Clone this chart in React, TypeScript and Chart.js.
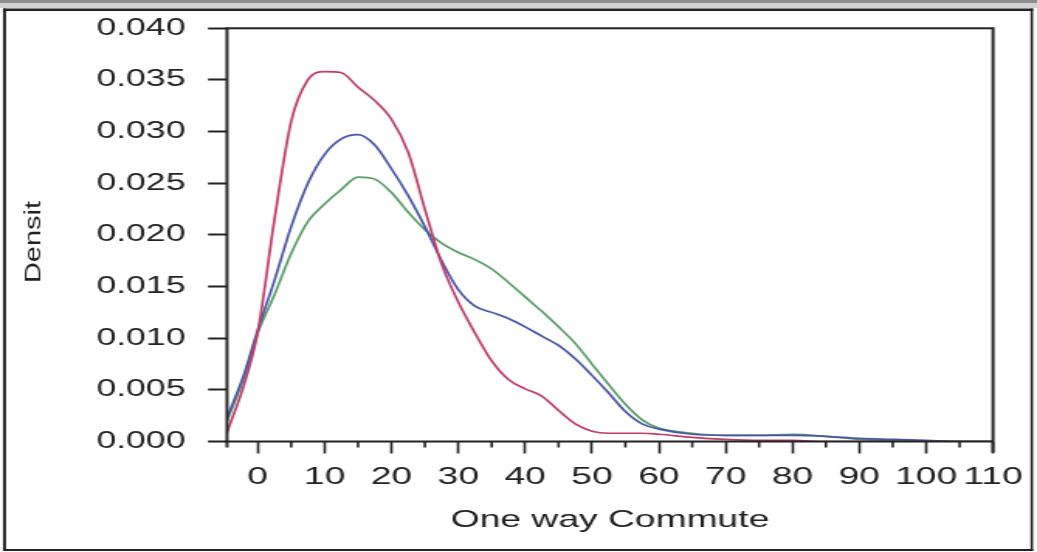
import React, { useEffect, useRef } from "react";
import { Chart, registerables } from "chart.js";

Chart.register(...registerables);

// ---- data ----
const commuteMinutes = [-4.6, -2, 0, 2.5, 5, 7.5, 10, 12.5, 15, 17.5, 20, 22.5, 25, 27.5, 30, 32.5, 35, 37.5, 40, 42.5, 45, 47.5, 50, 52.5, 55, 57.5, 60, 65, 70, 75, 80, 85, 90, 95, 100, 105, 110];
const redDensity = [0.0009, 0.0056, 0.0106, 0.0215, 0.0310, 0.0350, 0.0358, 0.0357, 0.0343, 0.0330, 0.0312, 0.0280, 0.0225, 0.0172, 0.0135, 0.0105, 0.0078, 0.0060, 0.0051, 0.0044, 0.0030, 0.0017, 0.0010, 0.0008, 0.0008, 0.0008, 0.0007, 0.0004, 0.0002, 0.0001, 0.0001, 0, 0, 0, 0, 0, 0];
const blueDensity = [0.0023, 0.0066, 0.0108, 0.0156, 0.0208, 0.0250, 0.0278, 0.0293, 0.0297, 0.0287, 0.0264, 0.0238, 0.0208, 0.0175, 0.0147, 0.0131, 0.0125, 0.0119, 0.0111, 0.0102, 0.0093, 0.0080, 0.0064, 0.0047, 0.0029, 0.0017, 0.0012, 0.0007, 0.0006, 0.0006, 0.0006, 0.0005, 0.0003, 0.0002, 0.0001, 0, 0];
const greenDensity = [0.0020, 0.0063, 0.0105, 0.0142, 0.0182, 0.0213, 0.0230, 0.0244, 0.0256, 0.0254, 0.0241, 0.0222, 0.0205, 0.0192, 0.0183, 0.0176, 0.0167, 0.0154, 0.0140, 0.0126, 0.0111, 0.0095, 0.0075, 0.0055, 0.0036, 0.0021, 0.0013, 0.0008, 0.0006, 0.0006, 0.0007, 0.0005, 0.0002, 0.0001, 0, 0, 0];
const seriesNames = ["Group 1", "Group 2", "Group 3"];
const xTickValues = [0, 5, 10, 15, 20, 25, 30, 35, 40, 45, 50, 55, 60, 65, 70, 75, 80, 85, 90, 95, 100, 105, 110];
const xTitle = "One way Commute";
const yTitle = "Densit";

// ---- layout (internal canvas is stretched horizontally by S) ----
const W = 669;
const H = 552;
const S = 1037 / W;
const FONT = "'Liberation Sans', Arial, Helvetica, sans-serif";
const INK = "#222";

const isMajor = (v: number) => Math.abs(v % 10) < 1e-6;

const decorPlugin = {
  id: "decor",
  beforeDraw(chart: any) {
    const ctx = chart.ctx;
    ctx.save();
    ctx.fillStyle = "#fff";
    ctx.fillRect(0, 0, W, H);
    ctx.fillStyle = "#8e8e8e";
    ctx.fillRect(0, 0, W, 3.5);
    ctx.fillStyle = "#d2d2d2";
    ctx.fillRect(0, 3.5, W, 4.5);
    ctx.fillStyle = INK;
    const x0 = 3 / S;
    const x1 = 1033 / S;
    ctx.fillRect(x0, 8.5, x1 - x0, 2.5);
    ctx.fillRect(x0, 549, x1 - x0, 2);
    ctx.fillRect(x0, 8.5, 3 / S, 542.5);
    ctx.fillRect(x1 - 2.5 / S, 8.5, 2.5 / S, 542.5);
    ctx.restore();
  },
  afterDraw(chart: any) {
    const ctx = chart.ctx;
    const a = chart.chartArea;
    const xs = chart.scales.x;
    ctx.save();
    ctx.fillStyle = INK;
    // plot box
    ctx.fillRect(a.left, a.top - 1, a.right - a.left, 2);
    ctx.fillRect(a.left - 1, a.bottom - 1, a.right - a.left + 1, 2);
    ctx.fillRect(a.left - 1.5 / S, a.top - 1, 3 / S, a.bottom - a.top + 7);
    ctx.fillRect(a.right - 1.5 / S, a.top - 1, 3 / S, a.bottom - a.top + 12);
    // minor x ticks
    for (const v of xTickValues) {
      if (isMajor(v)) continue;
      const px = xs.getPixelForValue(v);
      ctx.fillRect(px - 0.8, a.bottom, 1.6, 6);
    }
    // y title (narrow rotated text)
    ctx.translate(34 / S, 242);
    ctx.rotate(-Math.PI / 2);
    ctx.scale(1, 0.5);
    ctx.font = `29px ${FONT}`;
    ctx.textAlign = "center";
    ctx.textBaseline = "middle";
    ctx.fillStyle = INK;
    ctx.fillText(yTitle, 0, 0);
    ctx.restore();
  },
};

export default function App() {
  const ref = useRef<HTMLCanvasElement | null>(null);

  useEffect(() => {
    if (!ref.current) return;
    const mk = (ys: number[]) => commuteMinutes.map((x, i) => ({ x, y: ys[i] }));
    const chart = new Chart(ref.current, {
      type: "line",
      data: {
        datasets: [
          { label: seriesNames[0], data: mk(redDensity), borderColor: "#c23c6c", borderWidth: 1.7, pointRadius: 0, cubicInterpolationMode: "monotone", fill: false },
          { label: seriesNames[1], data: mk(blueDensity), borderColor: "#4a57a8", borderWidth: 1.7, pointRadius: 0, cubicInterpolationMode: "monotone", fill: false },
          { label: seriesNames[2], data: mk(greenDensity), borderColor: "#5a9e68", borderWidth: 1.7, pointRadius: 0, cubicInterpolationMode: "monotone", fill: false },
        ],
      },
      options: {
        animation: false,
        responsive: false,
        devicePixelRatio: 1,
        layout: { autoPadding: false, padding: { top: 28, right: W - 993 / S, bottom: 0, left: 0 } },
        plugins: { legend: { display: false }, tooltip: { enabled: false } },
        scales: {
          x: {
            type: "linear",
            min: -4.6,
            max: 110,
            afterBuildTicks: (sc: any) => { sc.ticks = xTickValues.map((v) => ({ value: v })); },
            afterFit: (sc: any) => { sc.height = H - 441.5; },
            border: { display: false },
            grid: {
              drawOnChartArea: false,
              drawTicks: true,
              tickLength: 12,
              tickWidth: 1.6,
              tickColor: (c: any) => (c.tick && isMajor(c.tick.value) ? INK : "rgba(0,0,0,0)"),
            },
            ticks: {
              autoSkip: false,
              maxRotation: 0,
              padding: 9,
              color: INK,
              font: { family: FONT, size: 24 },
              callback: (v: any) => {
                const n = Number(v);
                return isMajor(n) ? String(Math.round(n)) : "";
              },
            },
            title: { display: true, text: xTitle, color: INK, font: { family: FONT, size: 24 }, padding: { top: 0, bottom: 17 } },
          },
          y: {
            type: "linear",
            min: 0,
            max: 0.04,
            afterFit: (sc: any) => { sc.width = 227 / S; },
            border: { display: false },
            grid: { drawOnChartArea: false, drawTicks: true, tickLength: 19 / S, tickWidth: 2, tickColor: INK },
            ticks: {
              stepSize: 0.005,
              padding: 14.5,
              color: INK,
              font: { family: FONT, size: 23 },
              callback: (v: any) => Number(v).toFixed(3),
            },
          },
        },
      },
      plugins: [decorPlugin],
    } as any);
    return () => chart.destroy();
  }, []);

  return (
    <div style={{ position: "fixed", left: 0, top: 0, width: 1037, height: 552, background: "#fff" }}>
      <canvas ref={ref} width={W} height={H} style={{ width: "1037px", height: "552px", display: "block" }} />
    </div>
  );
}
